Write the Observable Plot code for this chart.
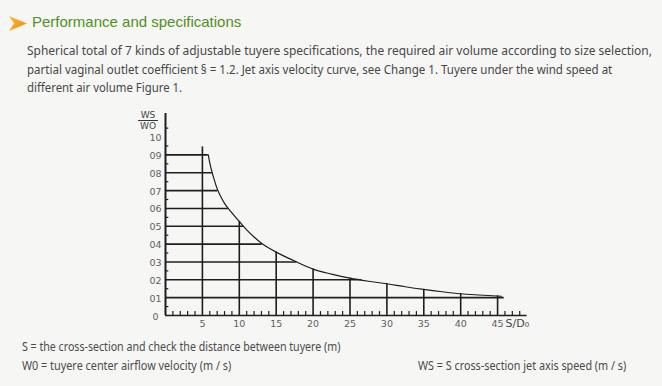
<!DOCTYPE html>
<html><head><meta charset="utf-8">
<script src="https://cdn.jsdelivr.net/npm/d3@7"></script>
<script src="https://cdn.jsdelivr.net/npm/@observablehq/plot@0.6"></script>
<style>
html,body{margin:0;padding:0}
body{background:#f6f6f4;width:662px;height:386px;overflow:hidden;position:relative;font-family:"Noto Sans",sans-serif}
.t{position:absolute;white-space:nowrap;transform-origin:0 0;line-height:1}
#arrow{position:absolute;left:9px;top:16px;width:18px;height:15px;background:linear-gradient(135deg,#f9b934,#e98d17);clip-path:polygon(0 0,100% 50%,0 100%,28% 50%)}
#title{left:32px;top:14px;font-family:"Liberation Sans",Arial,sans-serif;font-size:15px;color:#4f9024}
.p{font-size:13px;color:#474747}
.f{font-size:12.5px;color:#4a4a4a}
#chart{position:absolute;left:0;top:100px}
.frac{position:absolute;font-family:"DejaVu Sans",sans-serif;font-size:9px;color:#444;width:24px;text-align:center;left:136px;line-height:1}
#fracline{position:absolute;left:138px;top:119.5px;width:20px;height:1.2px;background:#333}
</style></head><body>
<div id="arrow"></div>
<div id="title" class="t">Performance and specifications</div>
<div id="texts"></div>
<div class="frac" style="top:110.5px">WS</div>
<div id="fracline"></div>
<div class="frac" style="top:122px">WO</div>
<div id="chart"></div>
<script>
// ---- text content ----
const paragraphLines = [
  "Spherical total of 7 kinds of adjustable tuyere specifications, the required air volume according to size selection,",
  "partial vaginal outlet coefficient § = 1.2. Jet axis velocity curve, see Change 1. Tuyere under the wind speed at",
  "different air volume Figure 1."
];
const footnotes = [
  "S = the cross-section and check the distance between tuyere (m)",
  "W0 = tuyere center airflow velocity (m / s)",
  "WS = S cross-section jet axis speed (m / s)"
];

// ---- chart data ----
const yTicks = [0, 0.1, 0.2, 0.3, 0.4, 0.5, 0.6, 0.7, 0.8, 0.9, 1.0];
const yTickLabels = ["0", "01", "02", "03", "04", "05", "06", "07", "08", "09", "10"];
const xTicks = [5, 10, 15, 20, 25, 30, 35, 40, 45];
const xTickLabels = ["5", "10", "15", "20", "25", "30", "35", "40", "45"];
const xMinor = [1,2,3,4,6,7,8,9,11,12,13,14,16,17,18,19,21,22,23,24,26,27,28,29,31,32,33,34,36,37,38,39,41,42,43,44,46,47,48];
const yMinor = [0.05,0.15,0.25,0.35,0.45,0.55,0.65,0.75,0.85,0.95,1.05];

// jet axis velocity curve WS/WO vs S/D0
const curveX = [5.8, 6, 6.5, 7, 7.5, 8, 9, 10, 11, 12, 13, 14, 15, 16, 17.5, 20, 22.5, 25, 27.5, 30, 32.5, 35, 37.5, 40, 42.5, 45.5];
const curveY = [0.9, 0.855, 0.775, 0.71, 0.665, 0.628, 0.575, 0.527, 0.48, 0.44, 0.405, 0.378, 0.355, 0.334, 0.305, 0.26, 0.232, 0.209, 0.192, 0.178, 0.161, 0.146, 0.133, 0.122, 0.115, 0.108];

// horizontal grid levels and where they meet the curve
const hLevels = [0.1, 0.2, 0.3, 0.4, 0.5, 0.6, 0.7, 0.8, 0.9];
const hEnds   = [45.9, 26.6, 17.8, 13.1, 10.6, 8.5, 7.07, 6.35, 5.8];
// vertical grid lines tops
const vTops   = [0.945, 0.527, 0.355, 0.26, 0.209, 0.178, 0.146, 0.122, 0.11];

const curveData = curveX.map((x, i) => ({x, y: curveY[i]}));

// ---- text placement ----
const texts = document.getElementById("texts");
const pTops = [44, 62.5, 81];
const pWidths = [625, 585, 155];
paragraphLines.forEach((s, i) => {
  const d = document.createElement("div");
  d.className = "t p"; d.textContent = s;
  d.style.left = "27px"; d.style.top = pTops[i] + "px";
  d.dataset.w = pWidths[i];
  texts.appendChild(d);
});
const fLeft = [22, 22, 418], fTop = [341, 360, 360], fW = [318, 209, 208];
footnotes.forEach((s, i) => {
  const d = document.createElement("div");
  d.className = "t f"; d.textContent = s;
  d.style.left = fLeft[i] + "px"; d.style.top = fTop[i] + "px";
  d.dataset.w = fW[i];
  texts.appendChild(d);
});
document.querySelectorAll(".t[data-w]").forEach(el => {
  const w = el.offsetWidth;
  el.style.transform = `scaleX(${(+el.dataset.w) / w})`;
});

// ---- plot ----
const ink = "#1e1e1e";
const lab = "#5e5e5e";
const chart = Plot.plot({
  width: 662,
  height: 240,
  marginLeft: 165,
  marginRight: 135.4,
  marginTop: 13,
  marginBottom: 25,
  x: {domain: [0, 49], axis: null},
  y: {domain: [0, 1.132], axis: null},
  style: {background: "transparent", fontFamily: "DejaVu Sans, sans-serif"},
  marks: [
    Plot.ruleY(hLevels, {y: d => d, x1: 0, x2: (d, i) => hEnds[i], stroke: ink, strokeWidth: 1.6}),
    Plot.ruleX(xTicks, {x: d => d, y1: 0, y2: (d, i) => vTops[i], stroke: ink, strokeWidth: 1.6}),
    Plot.ruleX(xMinor, {x: d => d, y1: 0, y2: 0.022, stroke: ink, strokeWidth: 1.2}),
    Plot.ruleY(yMinor, {y: d => d, x1: 0, x2: 0.45, stroke: ink, strokeWidth: 1.2}),
    Plot.line(curveData, {x: "x", y: "y", curve: "monotone-x", stroke: ink, strokeWidth: 1.2}),
    Plot.ruleX([0], {y1: 0, y2: 1.132, stroke: ink, strokeWidth: 2}),
    Plot.ruleY([0], {x1: 0, x2: 49, stroke: ink, strokeWidth: 1.6}),
    Plot.text(yTicks, {x: 0, y: d => d, text: (d, i) => yTickLabels[i], textAnchor: "middle", dx: -10, dy: 1, fill: lab, fontSize: 9.5}),
    Plot.text(xTicks, {x: d => d, y: 0, text: (d, i) => xTickLabels[i], dy: 8, fill: lab, fontSize: 9.5}),
    Plot.text(["S/D₀"], {x: 45, y: 0, text: d => d, textAnchor: "start", dx: 8, dy: 8, fill: "#444", fontSize: 11})
  ]
});
document.getElementById("chart").appendChild(chart);
</script>
</body></html>
